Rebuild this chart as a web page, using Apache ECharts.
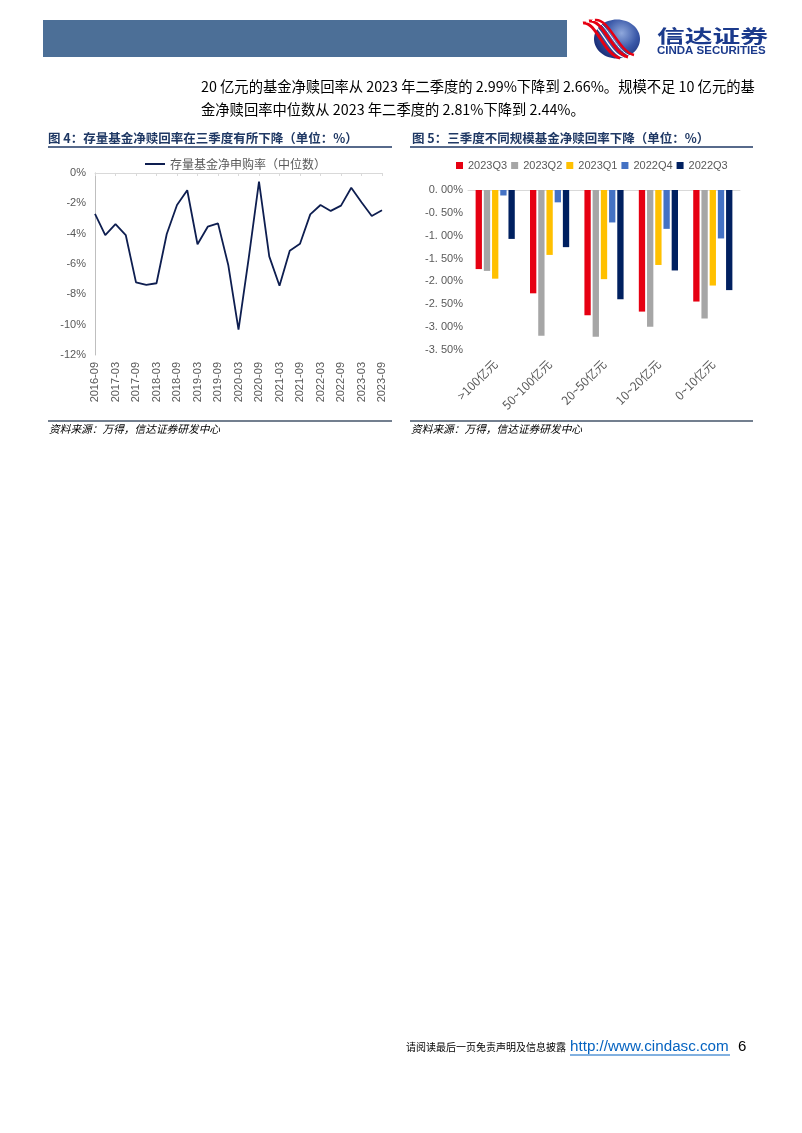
<!DOCTYPE html>
<html><head><meta charset="utf-8">
<script src="https://cdn.jsdelivr.net/npm/echarts@6/dist/echarts.min.js"></script>
<style>html,body{margin:0;padding:0;background:#fff}#c{width:802px;height:1133px}</style>
</head><body><div id="c"></div>
<script>
// ---- data ----
const quarters = ['2016-09','2016-12','2017-03','2017-06','2017-09','2017-12','2018-03','2018-06','2018-09','2018-12','2019-03','2019-06','2019-09','2019-12','2020-03','2020-06','2020-09','2020-12','2021-03','2021-06','2021-09','2021-12','2022-03','2022-06','2022-09','2022-12','2023-03','2023-06','2023-09'];
const netSubRate = [-2.70,-4.09,-3.37,-4.09,-7.21,-7.38,-7.27,-4.02,-2.11,-1.14,-4.70,-3.54,-3.32,-6.06,-10.33,-5.60,-0.57,-5.50,-7.43,-5.12,-4.66,-2.73,-2.11,-2.50,-2.15,-0.97,-1.93,-2.83,-2.46];
const lineSeriesName = '存量基金净申购率（中位数）';
const sizeCats = ['>100亿元','50~100亿元','20~50亿元','10~20亿元','0~10亿元'];
const barNames = ['2023Q3','2023Q2','2023Q1','2022Q4','2022Q3'];
const q2023Q3 = [-1.73,-2.26,-2.74,-2.66,-2.44];
const q2023Q2 = [-1.77,-3.19,-3.21,-2.99,-2.81];
const q2023Q1 = [-1.94,-1.42,-1.95,-1.64,-2.09];
const q2022Q4 = [-0.12,-0.27,-0.71,-0.85,-1.06];
const q2022Q3 = [-1.07,-1.25,-2.39,-1.76,-2.19];
const barColors = ['#E60012','#A6A6A6','#FFC000','#4472C4','#002060'];

const para1 = '20 亿元的基金净赎回率从 2023 年二季度的 2.99%下降到 2.66%。规模不足 10 亿元的基';
const para2 = '金净赎回率中位数从 2023 年二季度的 2.81%下降到 2.44%。';
const title4 = '图 4：存量基金净赎回率在三季度有所下降（单位：%）';
const title5 = '图 5：三季度不同规模基金净赎回率下降（单位：%）';
const sourceText = '资料来源：万得，信达证券研发中心';

const CJK = '"Noto Sans CJK SC", sans-serif';
const SANS = '"Liberation Sans", Arial, sans-serif';

const chart = echarts.init(document.getElementById('c'), null, {renderer:'canvas'});

const barSeries = [q2023Q3,q2023Q2,q2023Q1,q2022Q4,q2022Q3].map((d,i)=>({
  name: barNames[i], type:'bar', xAxisIndex:2, yAxisIndex:1, data:d,
  itemStyle:{color:barColors[i]}, barGap:'30%', barCategoryGap:'28%'
}));

function ribbon(x1,y1,cx1,cy1,cx2,cy2,x2,y2,color,w){
  return {type:'bezierCurve', shape:{x1:x1,y1:y1,cpx1:cx1,cpy1:cy1,cpx2:cx2,cpy2:cy2,x2:x2,y2:y2},
    style:{fill:null, stroke:color, lineWidth:w}};
}

const option = {
  animation:false,
  backgroundColor:'#fff',
  grid:[
    {left:95, top:173, width:287, height:182},
    {left:468, top:190, width:272, height:160}
  ],
  legend:[
    {data:[lineSeriesName], left:140, top:153, itemWidth:20, itemHeight:2, icon:'rect',
     textStyle:{color:'#595959', fontSize:12, fontFamily:CJK}},
    {data:barNames, left:451, top:155, itemWidth:7, itemHeight:7, itemGap:4, icon:'rect',
     textStyle:{color:'#595959', fontSize:11, fontFamily:SANS}}
  ],
  xAxis:[
    {gridIndex:0, type:'category', data:quarters, position:'top', boundaryGap:false,
     axisLine:{show:true, onZero:false, lineStyle:{color:'#D9D9D9'}},
     axisTick:{show:true, interval:1, inside:true, length:3, lineStyle:{color:'#D9D9D9'}},
     axisLabel:{show:false}, splitLine:{show:false}},
    {gridIndex:0, type:'category', data:quarters, position:'bottom', boundaryGap:false,
     axisLine:{show:false}, axisTick:{show:false},
     axisLabel:{interval:1, rotate:90, fontSize:11, color:'#595959', margin:7, fontFamily:SANS}},
    {gridIndex:1, type:'category', data:sizeCats, position:'top',
     axisLine:{show:true, onZero:false, lineStyle:{color:'#D9D9D9'}},
     axisTick:{show:false}, axisLabel:{show:false}},
    {gridIndex:1, type:'category', data:sizeCats, position:'bottom',
     axisLine:{show:false}, axisTick:{show:false},
     axisLabel:{interval:0, rotate:45, fontSize:12, color:'#595959', margin:12, fontFamily:CJK}}
  ],
  yAxis:[
    {gridIndex:0, type:'value', min:-12, max:0, interval:2,
     axisLine:{show:true, lineStyle:{color:'#BFBFBF'}}, axisTick:{show:false},
     splitLine:{show:false},
     axisLabel:{formatter:'{value}%', color:'#595959', fontSize:11, margin:9, fontFamily:SANS}},
    {gridIndex:1, type:'value', min:-3.5, max:0, interval:0.5,
     axisLine:{show:false}, axisTick:{show:false}, splitLine:{show:false},
     axisLabel:{formatter:v=>v.toFixed(2).replace('.', '. ')+'%', color:'#595959', fontSize:11, margin:5, fontFamily:SANS}}
  ],
  series:[
    {name:lineSeriesName, type:'line', xAxisIndex:0, yAxisIndex:0, data:netSubRate,
     symbol:'none', lineStyle:{color:'#0E1E50', width:1.8}, itemStyle:{color:'#0E1E50'}}
  ].concat(barSeries),
  graphic:[
    // header bar
    {type:'rect', shape:{x:43,y:20,width:524,height:37}, style:{fill:'#4C6F97'}},
    // logo sphere
    {type:'ellipse', shape:{cx:617,cy:39,rx:23,ry:19.5},
     style:{fill:new echarts.graphic.RadialGradient(0.6,0.35,0.8,[{offset:0,color:'#8FA8DC'},{offset:0.5,color:'#3A58A8'},{offset:1,color:'#14266E'}])}},
    ribbon(583,23, 596,21, 604,55, 620,58, '#E60012', 3),
    ribbon(586,22, 600,20, 608,54, 624,57.5, '#FFFFFF', 1.2),
    ribbon(589,21, 603,19, 612,53, 628,57, '#E60012', 3),
    ribbon(592,20.5, 606,18.5, 615,52, 631,56, '#FFFFFF', 1),
    ribbon(595,20, 609,18, 618,51, 634,55, '#E60012', 2.5),
    {type:'text', x:657, y:36, scaleX:1.5, scaleY:1, style:{text:'信达证券', font:'bold 18.5px "Noto Sans CJK SC"', fill:'#1B3A8C', textVerticalAlign:'middle'}},
    {type:'text', x:657, y:51, style:{text:'CINDA SECURITIES', font:'bold 11.5px "Liberation Sans", Arial', fill:'#1B3A8C', textVerticalAlign:'middle'}},
    // paragraph
    {type:'text', x:201, y:87, style:{text:para1, font:'14.3px "Noto Sans CJK SC"', fill:'#000', textVerticalAlign:'middle'}},
    {type:'text', x:201, y:110, style:{text:para2, font:'14.3px "Noto Sans CJK SC"', fill:'#000', textVerticalAlign:'middle'}},
    // figure titles
    {type:'text', x:48, y:138, style:{text:title4, font:'bold 12.5px "Noto Sans CJK SC"', fill:'#1F3864', textVerticalAlign:'middle'}},
    {type:'text', x:412, y:138, style:{text:title5, font:'bold 12.5px "Noto Sans CJK SC"', fill:'#1F3864', textVerticalAlign:'middle'}},
    {type:'line', shape:{x1:48,y1:147,x2:392,y2:147}, style:{stroke:'#1F3864', lineWidth:1.5}},
    {type:'line', shape:{x1:410,y1:147,x2:753,y2:147}, style:{stroke:'#1F3864', lineWidth:1.5}},
    // sources
    {type:'line', shape:{x1:48,y1:421,x2:392,y2:421}, style:{stroke:'#44546A', lineWidth:1.5}},
    {type:'line', shape:{x1:410,y1:421,x2:753,y2:421}, style:{stroke:'#44546A', lineWidth:1.5}},
    {type:'text', x:49, y:429, style:{text:sourceText, font:'italic 10.7px "Noto Sans CJK SC"', fill:'#000', textVerticalAlign:'middle'}},
    {type:'text', x:411, y:429, style:{text:sourceText, font:'italic 10.7px "Noto Sans CJK SC"', fill:'#000', textVerticalAlign:'middle'}},
    // footer
    {type:'text', x:406, y:1047, style:{text:'请阅读最后一页免责声明及信息披露', font:'10px "Noto Sans CJK SC"', fill:'#000', textVerticalAlign:'middle'}},
    {type:'text', x:570, y:1047, style:{text:'http://www.cindasc.com', font:'15.2px "Liberation Sans", Arial', fill:'#0563C1', textVerticalAlign:'middle'}},
    {type:'line', shape:{x1:570,y1:1055,x2:730,y2:1055}, style:{stroke:'#0563C1', lineWidth:1}},
    {type:'text', x:738, y:1047, style:{text:'6', font:'15px "Liberation Sans", Arial', fill:'#000', textVerticalAlign:'middle'}}
  ]
};
chart.setOption(option);
</script></body></html>
